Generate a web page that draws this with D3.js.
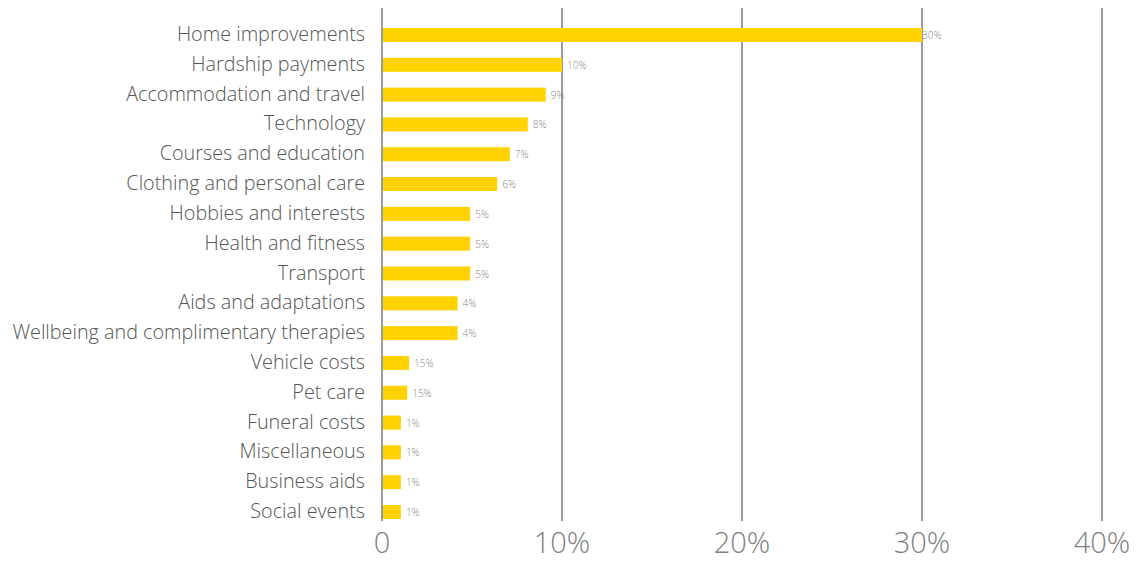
<!DOCTYPE html>
<html>
<head>
<meta charset="utf-8">
<script src="https://cdn.jsdelivr.net/npm/d3@7"></script>
<style>
  body { margin: 0; background: #fff; }
  text { font-family: "Open Sans", Lato, sans-serif; font-weight: 300; }
</style>
</head>
<body>
<div id="vis"></div>
<script>
// chart data
const CATEGORIES = ["Home improvements", "Hardship payments", "Accommodation and travel ",
  "Technology", "Courses and education", "Clothing and personal care",
  "Hobbies and interests", "Health and fitness", "Transport", "Aids and adaptations",
  "Wellbeing and complimentary therapies", "Vehicle costs", "Pet care",
  "Funeral costs", "Miscellaneous", "Business aids", "Social events"];
const VALUES = [30, 10, 9.1, 8.1, 7.1, 6.4, 4.9, 4.9, 4.9, 4.2, 4.2, 1.5, 1.4, 1.05, 1.05, 1.05, 1.05];
const VALUE_LABELS = ["30%", "10%", "9%", "8%", "7%", "6%", "5%", "5%", "5%", "4%", "4%",
  "15%", "15%", "1%", "1%", "1%", "1%"];
const TICKS = [0, 10, 20, 30, 40];
const TICK_LABELS = ["0", "10%", "20%", "30%", "40%"];

const FRAME_WIDTH = 1140;
const FRAME_HEIGHT = 561;
const MARGINS = {left: 382, right: 38, top: 35, bottom: 49};

const FRAME = d3.select("#vis")
  .append("svg")
    .attr("width", FRAME_WIDTH)
    .attr("height", FRAME_HEIGHT);

const X_SCALE = d3.scaleLinear()
  .domain([0, 40])
  .range([MARGINS.left, FRAME_WIDTH - MARGINS.right]);

const Y_SCALE = d3.scalePoint()
  .domain(CATEGORIES)
  .range([MARGINS.top, FRAME_HEIGHT - MARGINS.bottom]);

const BAR_H = 14;
const data = CATEGORIES.map((c, i) => ({cat: c, v: VALUES[i], lab: VALUE_LABELS[i]}));

// grid lines
FRAME.selectAll(".grid")
  .data(TICKS)
  .enter()
  .append("line")
    .attr("x1", d => X_SCALE(d))
    .attr("x2", d => X_SCALE(d))
    .attr("y1", 8)
    .attr("y2", 521)
    .attr("stroke", "#7a7a7a")
    .attr("stroke-width", 1.5);

// bars
FRAME.selectAll(".bar")
  .data(data)
  .enter()
  .append("rect")
    .attr("x", X_SCALE(0) + 1)
    .attr("y", d => Y_SCALE(d.cat) - BAR_H / 2)
    .attr("width", d => X_SCALE(d.v) - X_SCALE(0) - 1)
    .attr("height", BAR_H)
    .attr("fill", "#ffd200");

// value labels
FRAME.selectAll(".val")
  .data(data)
  .enter()
  .append("text")
    .attr("x", d => X_SCALE(d.v) + (d.v >= 30 ? 0 : 5))
    .attr("y", d => Y_SCALE(d.cat) + 4)
    .attr("font-size", 10)
    .attr("fill", "#888")
    .text(d => d.lab);

// category labels
FRAME.selectAll(".cat")
  .data(data)
  .enter()
  .append("text")
    .attr("x", 365)
    .attr("y", d => Y_SCALE(d.cat) + 6)
    .attr("text-anchor", "end")
    .attr("font-size", 19.8)
    .attr("fill", "#555")
    .text(d => d.cat);

// x tick labels
FRAME.selectAll(".tick")
  .data(TICKS)
  .enter()
  .append("text")
    .attr("x", d => X_SCALE(d))
    .attr("y", 553)
    .attr("text-anchor", "middle")
    .attr("font-size", 29)
    .attr("fill", "#808080")
    .text((d, i) => TICK_LABELS[i]);
</script>
</body>
</html>
